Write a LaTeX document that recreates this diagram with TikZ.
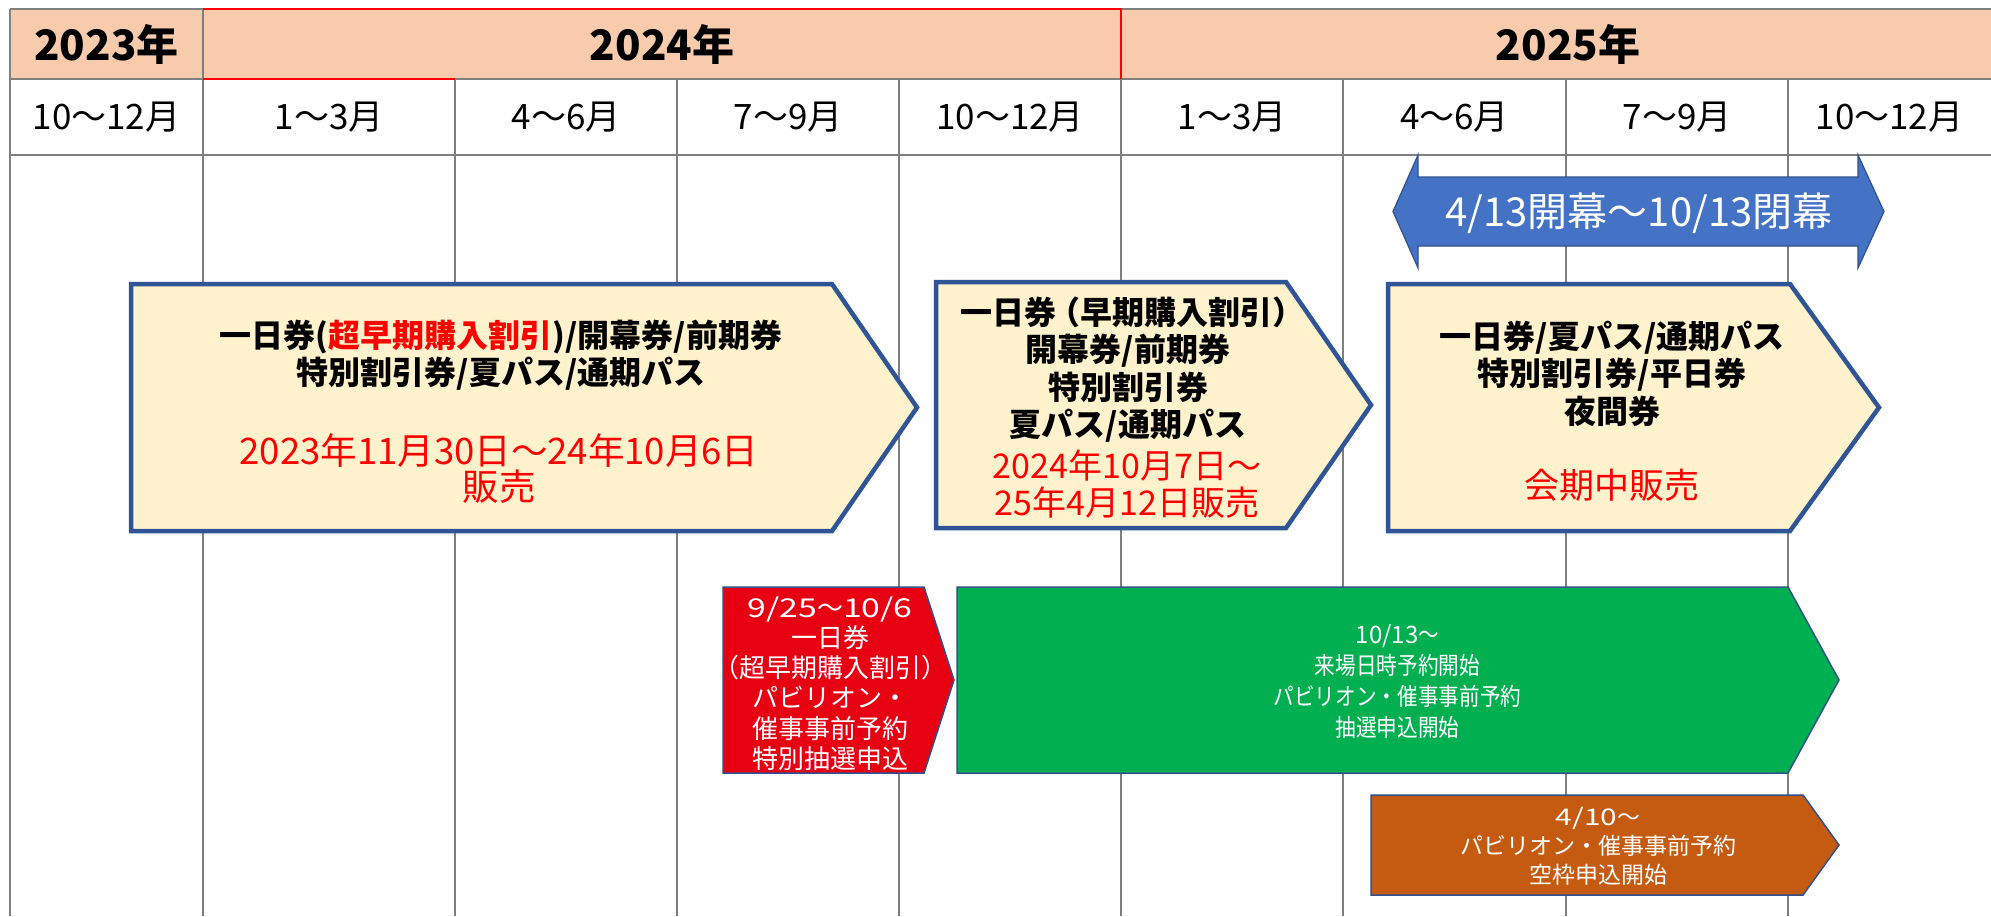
\documentclass[tikz,border=0pt]{standalone}
\usepackage{fontspec}
\setmainfont{Noto Sans CJK JP}
\newfontfamily\condfont[FakeStretch=0.86]{Noto Sans CJK JP}
\newfontfamily\widefont[FakeStretch=1.3]{Noto Sans CJK JP}
\newcommand\wdg[1]{{\widefont #1}}
\newcommand\ndg[1]{{\normalfont #1}}
\definecolor{gridgray}{HTML}{7F7F7F}
\definecolor{peach}{HTML}{F8CBAD}
\definecolor{ticketfill}{HTML}{FFF2CC}
\definecolor{ticketborder}{HTML}{2F5597}
\definecolor{thinborder}{HTML}{2F528F}
\definecolor{expoblue}{HTML}{4472C4}
\definecolor{boxred}{HTML}{E60012}
\definecolor{boxgreen}{HTML}{00B050}
\definecolor{boxorange}{HTML}{C55A11}
\definecolor{txtred}{HTML}{FF0000}
\begin{document}
\begin{tikzpicture}[x=1pt,y=-1pt,
  gridline/.style={draw=gridgray, line width=2.5pt},
  redline/.style={draw=txtred, line width=2.5pt},
  ticket/.style={fill=ticketfill, draw=ticketborder, line width=4.5pt, line join=miter},
  flatbox/.style={draw=thinborder, line width=1.5pt, line join=miter},
  txt/.style={align=center, inner sep=0pt},
  yeartxt/.style={txt, font=\fontsize{42}{46}\selectfont\bfseries},
  monthtxt/.style={txt, font=\fontsize{35}{38}\selectfont},
  tickettxt/.style={txt, font=\fontsize{32}{37.4}\selectfont\bfseries},
  redtxt/.style={txt, text=txtred, font=\fontsize{35}{36}\selectfont},
  whitetxt/.style={txt, text=white},
]
\useasboundingbox (0,0) rectangle (1991,916);
\fill[white] (0,0) rectangle (1991,916);
% year row
\fill[peach] (10,9) rectangle (1991,79);
% horizontal grid lines
\draw[gridline] (10,9) -- (1991,9);
\draw[gridline] (10,79) -- (1991,79);
\draw[gridline] (10,155) -- (1991,155);
% vertical grid lines
\draw[gridline] (10,9) -- (10,916);
\draw[gridline] (203,9) -- (203,916);
\draw[gridline] (1121,9) -- (1121,916);
\foreach \gx in {455,677,899,1343,1566,1788}
  \draw[gridline] (\gx,79) -- (\gx,916);
% red outline of 2024 cell
\draw[redline] (203,9) -- (1121,9) -- (1121,79);
\draw[redline] (203,79) -- (455,79);
% year labels
\node[yeartxt] (y2023) at (106.5,44) {2023年};
\node[yeartxt] (y2024) at (662,44) {2024年};
\node[yeartxt] (y2025) at (1568,44) {2025年};
% month labels
\node[monthtxt] (m1) at (106.5,117) {10〜12月};
\node[monthtxt] (m2) at (329,117) {1〜3月};
\node[monthtxt] (m3) at (566,117) {4〜6月};
\node[monthtxt] (m4) at (788,117) {7〜9月};
\node[monthtxt] (m5) at (1010,117) {10〜12月};
\node[monthtxt] (m6) at (1232,117) {1〜3月};
\node[monthtxt] (m7) at (1454.5,117) {4〜6月};
\node[monthtxt] (m8) at (1677,117) {7〜9月};
\node[monthtxt] (m9) at (1889.5,117) {10〜12月};
% expo period double arrow
\draw[fill=expoblue, draw=thinborder, line width=1.2pt, line join=miter]
  (1393,211.5) -- (1418,155) -- (1418,177) -- (1858,177) -- (1858,155)
  -- (1884,211.5) -- (1858,268) -- (1858,246) -- (1418,246) -- (1418,268) -- cycle;
\node[whitetxt, font=\fontsize{40}{44}\selectfont] (period) at (1639,213) {4/13開幕〜10/13閉幕};
% ticket box 1
\draw[ticket] (131,284) -- (832,284) -- (917,407.5) -- (832,531) -- (131,531) -- cycle;
\node[tickettxt] (t1a) at (501,355) {一日券(\textcolor{txtred}{超早期購入割引})/開幕券/前期券\\特別割引券/夏パス/通期パス};
\node[redtxt, font=\fontsize{36.5}{36}\selectfont] (t1b) at (499,468.5) {2023年11月30日〜24年10月6日\\販売};
% ticket box 2
\draw[ticket] (936,282) -- (1286,282) -- (1371,405) -- (1286,528) -- (936,528) -- cycle;
\node[tickettxt] (t2a) at (1128,369.5)
  {一日券\kern-0.25em（早期購入割引）\kern-0.25em\\開幕券/前期券\\特別割引券\\夏パス/通期パス};
\node[redtxt, font=\fontsize{34}{37}\selectfont] (t2b) at (1127,484.5)
  {2024年10月7日〜\\25年4月12日販売};
% ticket box 3
\draw[ticket] (1388,284) -- (1790,284) -- (1879,407.5) -- (1790,531) -- (1388,531) -- cycle;
\node[tickettxt] (t3a) at (1612,373.5) {一日券/夏パス/通期パス\\特別割引券/平日券\\夜間券};
\node[redtxt] (t3b) at (1612,485) {会期中販売};
% red box
\draw[flatbox, fill=boxred] (723,587) -- (924,587) -- (954,680) -- (924,773) -- (723,773) -- cycle;
\node[whitetxt, font=\fontsize{26}{30.2}\selectfont] (rb) at (830,683.5)
  {\wdg{9/25}〜\wdg{10/6}\\一日券\\（超早期購入割引）\\パビリオン・\\催事事前予約\\特別抽選申込};
% green box
\draw[flatbox, fill=boxgreen] (957,587) -- (1788,587) -- (1839,680) -- (1788,773) -- (957,773) -- cycle;
\node[whitetxt, font=\condfont\fontsize{24}{31}\selectfont] (gb) at (1397.5,681.5)
  {\ndg{10/13}〜\\来場日時予約開始\\パビリオン・催事事前予約\\抽選申込開始};
% orange box
\draw[flatbox, fill=boxorange] (1371,795) -- (1803,795) -- (1839,845) -- (1803,895) -- (1371,895) -- cycle;
\node[whitetxt, font=\fontsize{23}{29}\selectfont] (ob) at (1598,846)
  {\wdg{4/10}〜\\パビリオン・催事事前予約\\空枠申込開始};
\end{tikzpicture}
\end{document}
